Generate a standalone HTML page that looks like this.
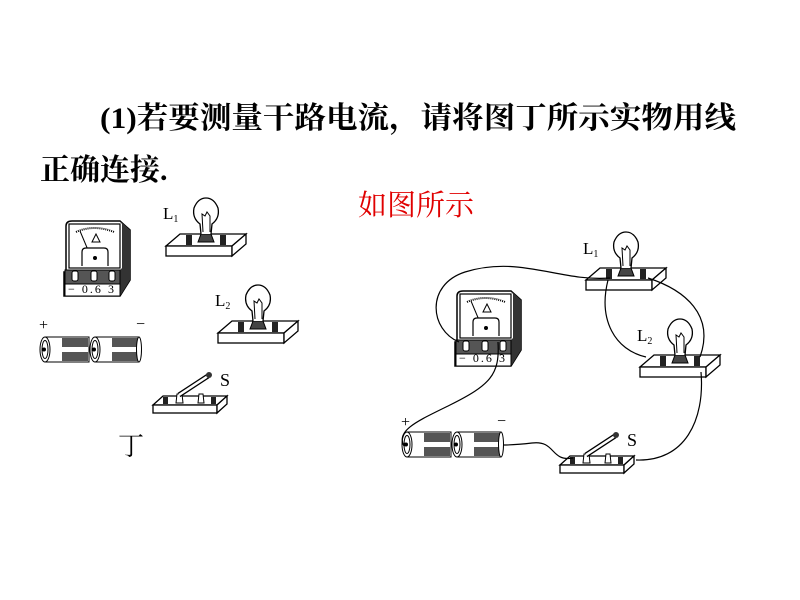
<!DOCTYPE html>
<html><head><meta charset="utf-8"><style>
html,body{margin:0;padding:0;background:#fff;}
svg{display:block}
.t{font-family:"Liberation Serif","Noto Serif CJK SC",serif;}
</style></head><body>
<svg width="800" height="600" viewBox="0 0 800 600" xmlns="http://www.w3.org/2000/svg">
<defs>
<g id="meter">
  <path d="M2,52 L2,6 Q2,1 8,1 L56,1 L66,10 L66,60 L56,76 L0,76 L0,52 Z" fill="#fff" stroke="#000" stroke-width="1.5"/>
  <path d="M56,1 L66,10 L66,60 L56,76 L56,50 L58,48 L58,4 Z" fill="#333"/>
  <rect x="5" y="4" width="51" height="44" fill="#fff" stroke="#000" stroke-width="1.2"/>
  <path d="M12,12 Q30,4 50,12" fill="none" stroke="#000" stroke-width="2" stroke-dasharray="1 1"/>
  <line x1="16" y1="11" x2="24" y2="30" stroke="#000" stroke-width="1"/>
  <path d="M28,22 L32,14 L36,22 Z" fill="none" stroke="#000"/>
  <path d="M18,46 L18,32 Q18,28 22,28 L40,28 Q44,28 44,32 L44,46" fill="#fff" stroke="#000" stroke-width="1.2"/>
  <circle cx="31" cy="38" r="2" fill="#000"/>
  <rect x="1" y="50" width="55" height="14" fill="#555" stroke="#000"/>
  <rect x="8" y="51" width="6" height="10" rx="2" fill="#fff" stroke="#000"/>
  <rect x="27" y="51" width="6" height="10" rx="2" fill="#fff" stroke="#000"/>
  <rect x="45" y="51" width="6" height="10" rx="2" fill="#fff" stroke="#000"/>
  <rect x="1" y="64" width="55" height="12" fill="#fff" stroke="#000"/>
</g>
<g id="lamp">
  <polygon points="0,14 14,2 80,2 66,14" fill="#fff" stroke="#000" stroke-width="1.3"/>
  <rect x="0" y="14" width="66" height="10" fill="#fff" stroke="#000" stroke-width="1.3"/>
  <polygon points="66,14 80,2 80,12 66,24" fill="#fff" stroke="#000" stroke-width="1.3"/>
  <rect x="20" y="3" width="6" height="10" fill="#222"/>
  <rect x="54" y="3" width="6" height="10" fill="#222"/>
  <path d="M32,10 L35,2 L45,2 L48,10 Z" fill="#444" stroke="#000"/>
  <path d="M35,2 L34,-8 Q26,-14 28,-24 Q32,-34 40,-34 Q48,-34 52,-24 Q54,-14 46,-8 L45,2" fill="#fff" stroke="#000" stroke-width="1.3"/>
  <path d="M37,0 L36,-18 L39,-16 L41,-20 L44,-16 L44,0" fill="none" stroke="#000"/>
</g>
<g id="cell">
  <rect x="5" y="0" width="44" height="25" fill="#fff" stroke="#000"/>
  <rect x="22" y="1" width="26" height="9" fill="#555"/>
  <rect x="22" y="15" width="26" height="9" fill="#555"/>
  <ellipse cx="5" cy="12.5" rx="5" ry="12.5" fill="#fff" stroke="#000"/>
  <ellipse cx="5" cy="12.5" rx="3" ry="9" fill="#fff" stroke="#000"/>
  <circle cx="4" cy="12.5" r="2" fill="#000"/>
</g>
<g id="battery">
  <use href="#cell"/>
  <use href="#cell" x="50"/>
  <ellipse cx="99" cy="12.5" rx="2.5" ry="12.5" fill="#fff" stroke="#000"/>
</g>
<g id="switch">
  <polygon points="0,12 10,3 74,3 64,12" fill="#fff" stroke="#000" stroke-width="1.3"/>
  <rect x="0" y="12" width="64" height="8" fill="#fff" stroke="#000" stroke-width="1.3"/>
  <polygon points="64,12 74,3 74,11 64,20" fill="#fff" stroke="#000" stroke-width="1.3"/>
  <rect x="10" y="4" width="5" height="7" fill="#222"/>
  <rect x="58" y="4" width="5" height="7" fill="#222"/>
  <path d="M23,10 L24,1 L29,1 L30,10 Z" fill="#fff" stroke="#000"/>
  <path d="M45,10 L46,1 L50,1 L51,10 Z" fill="#fff" stroke="#000"/>
  <line x1="26" y1="2" x2="55" y2="-17" stroke="#000" stroke-width="5"/>
  <line x1="26" y1="2" x2="55" y2="-17" stroke="#fff" stroke-width="2.5"/>
  <circle cx="56" cy="-18" r="3" fill="#333"/>
</g>
</defs>

<text class="t" x="100" y="128" font-size="30" font-weight="bold" textLength="636" lengthAdjust="spacingAndGlyphs">(1)若要测量干路电流，请将图丁所示实物用线</text>
<text class="t" x="40" y="180" font-size="30" font-weight="bold">正确连接.</text>
<text class="t" x="358" y="215" font-size="29" fill="#e00000">如图所示</text>

<!-- left set -->
<use href="#meter" x="64" y="220"/>
<text class="t" x="68" y="293" font-size="12" textLength="46">−  0.6  3</text>
<use href="#lamp" x="166" y="232"/>
<text class="t" x="163" y="219" font-size="17">L<tspan font-size="10" dy="3">1</tspan></text>
<use href="#lamp" x="218" y="319"/>
<text class="t" x="215" y="306" font-size="17">L<tspan font-size="10" dy="3">2</tspan></text>
<use href="#battery" x="40" y="337"/>
<text class="t" x="39" y="330" font-size="16">+</text>
<text class="t" x="136" y="329" font-size="16">−</text>
<use href="#switch" x="153" y="393"/>
<text class="t" x="220" y="386" font-size="18">S</text>
<text class="t" x="118" y="455" font-size="26">丁</text>

<!-- right set -->
<use href="#meter" x="455" y="290"/>
<text class="t" x="459" y="362" font-size="12" textLength="46">−  0.6  3</text>
<use href="#lamp" x="586" y="266"/>
<text class="t" x="583" y="254" font-size="17">L<tspan font-size="10" dy="3">1</tspan></text>
<use href="#lamp" x="640" y="353"/>
<text class="t" x="637" y="341" font-size="17">L<tspan font-size="10" dy="3">2</tspan></text>
<use href="#battery" x="402" y="432"/>
<text class="t" x="401" y="427" font-size="16">+</text>
<text class="t" x="497" y="426" font-size="16">−</text>
<use href="#switch" x="560" y="453"/>
<text class="t" x="627" y="446" font-size="18">S</text>

<g fill="none" stroke="#000" stroke-width="1.2">
  <path d="M459,342 C430,330 425,285 465,272 C520,255 560,282 610,278"/>
  <path d="M608,280 C598,320 615,350 646,357"/>
  <path d="M648,278 C685,290 715,315 700,357"/>
  <path d="M701,372 C705,420 685,462 636,460"/>
  <path d="M573,458 C550,462 556,440 532,443 C515,445 510,445 503,445"/>
  <path d="M404,446 C395,430 420,420 450,405 C490,385 500,375 498,342"/>
</g>
</svg>
</body></html>
